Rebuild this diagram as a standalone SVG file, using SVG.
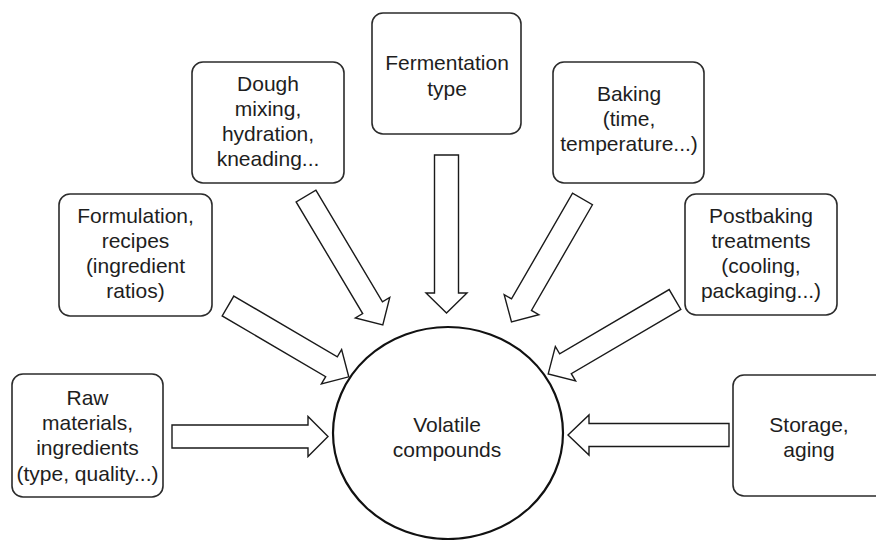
<svg xmlns="http://www.w3.org/2000/svg" width="876" height="540" viewBox="0 0 876 540">
<style>
.box{fill:#fff;stroke:#2b2b2b;stroke-width:1.6}
.arr{fill:#fff;stroke:#1a1a1a;stroke-width:1.4;stroke-linejoin:miter}
.t{font-family:"Liberation Sans",Arial,sans-serif;font-size:21px;fill:#1e1e1e;text-anchor:middle}
</style>
<rect width="876" height="540" fill="#fff"/>
<g id="connectors">
<path class="arr" transform="translate(172,436.5)" d="M0,-11.5 L136,-11.5 L136,-20 L156,0 L136,20 L136,11.5 L0,11.5 Z"/>
<path class="arr" transform="translate(729,435) rotate(180)" d="M0,-11.5 L140,-11.5 L140,-20 L161,0 L140,20 L140,11.5 L0,11.5 Z"/>
<path class="arr" transform="translate(446.5,155) rotate(90)" d="M0,-12 L138,-12 L138,-20.5 L158,0 L138,20.5 L138,12 L0,12 Z"/>
<path class="arr" transform="translate(306,196) rotate(59.2)" d="M0,-11.5 L130,-11.5 L130,-20 L150,0 L130,20 L130,11.5 L0,11.5 Z"/>
<path class="arr" transform="translate(582.5,199) rotate(120)" d="M0,-11.5 L122,-11.5 L122,-20 L142,0 L122,20 L122,11.5 L0,11.5 Z"/>
<path class="arr" transform="translate(228,306) rotate(30.4)" d="M0,-11.5 L120,-11.5 L120,-20 L140,0 L120,20 L120,11.5 L0,11.5 Z"/>
<path class="arr" transform="translate(675,299.5) rotate(149.6)" d="M0,-11.5 L127,-11.5 L127,-20 L147,0 L127,20 L127,11.5 L0,11.5 Z"/>
</g>
<g id="volatile">
<ellipse cx="448" cy="433" rx="115" ry="106" fill="#fff" stroke="#111" stroke-width="2.2"/>
<text class="t" x="447" y="432">Volatile</text>
<text class="t" x="447" y="457">compounds</text>
</g>
<g id="raw">
<rect class="box" x="12" y="374" width="151" height="123" rx="11"/>
<text class="t" x="87.5" y="405">Raw</text>
<text class="t" x="87.5" y="430">materials,</text>
<text class="t" x="87.5" y="455">ingredients</text>
<text class="t" x="87.5" y="481">(type, quality...)</text>
</g>
<g id="formulation">
<rect class="box" x="59" y="194" width="153" height="122" rx="11"/>
<text class="t" x="135.5" y="223">Formulation,</text>
<text class="t" x="135.5" y="248">recipes</text>
<text class="t" x="135.5" y="273">(ingredient</text>
<text class="t" x="135.5" y="298">ratios)</text>
</g>
<g id="dough">
<rect class="box" x="192" y="62" width="152" height="121" rx="11"/>
<text class="t" x="268" y="91">Dough</text>
<text class="t" x="268" y="116">mixing,</text>
<text class="t" x="268" y="141">hydration,</text>
<text class="t" x="268" y="166">kneading...</text>
</g>
<g id="fermentation">
<rect class="box" x="372" y="13" width="149" height="121" rx="11"/>
<text class="t" x="447" y="70">Fermentation</text>
<text class="t" x="447" y="96">type</text>
</g>
<g id="baking">
<rect class="box" x="553" y="62" width="151" height="121" rx="11"/>
<text class="t" x="629" y="101">Baking</text>
<text class="t" x="629" y="126">(time,</text>
<text class="t" x="629" y="151">temperature...)</text>
</g>
<g id="postbaking">
<rect class="box" x="685" y="194" width="152" height="121" rx="11"/>
<text class="t" x="761" y="223">Postbaking</text>
<text class="t" x="761" y="248">treatments</text>
<text class="t" x="761" y="273">(cooling,</text>
<text class="t" x="761" y="298">packaging...)</text>
</g>
<g id="storage">
<rect class="box" x="733" y="375" width="160" height="121" rx="11"/>
<text class="t" x="809" y="432">Storage,</text>
<text class="t" x="809" y="457">aging</text>
</g>
</svg>
